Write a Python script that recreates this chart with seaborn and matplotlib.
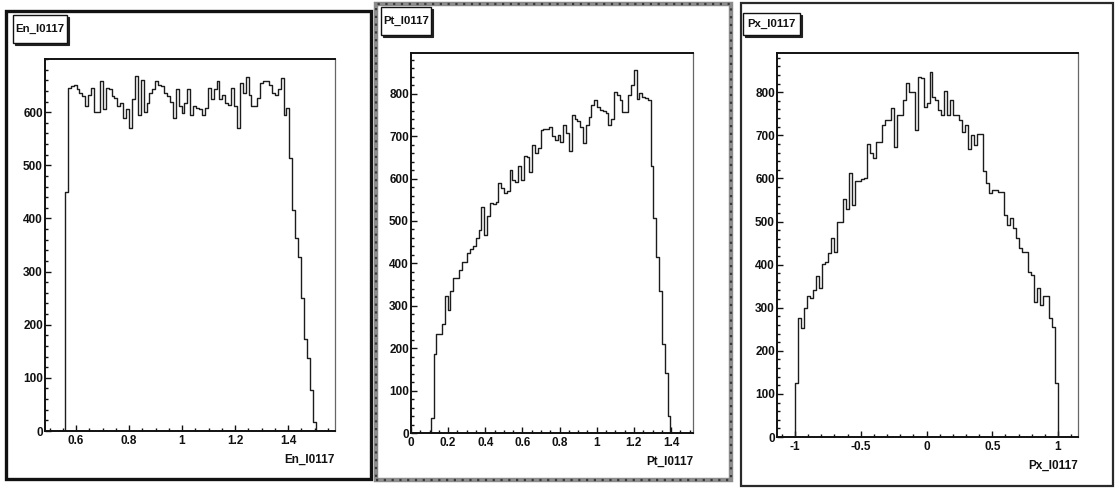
import numpy as np
import matplotlib
matplotlib.use("Agg")
import matplotlib.pyplot as plt
import seaborn as sns
import pandas as pd
from matplotlib.patches import Rectangle
from matplotlib.ticker import FixedLocator, FixedFormatter, MultipleLocator
from matplotlib import font_manager

# ---------------- data ----------------
en_counts = [450,
             646, 649, 652, 643, 636, 630, 611, 633, 646, 601,
             601, 658, 605, 646, 643, 630, 627, 611, 617, 589,
             605, 570, 624, 668, 595, 661, 601, 617, 636, 643,
             658, 652, 649, 636, 630, 620, 589, 643, 611, 598,
             617, 643, 595, 611, 608, 605, 595, 608, 646, 624,
             643, 658, 624, 633, 617, 614, 646, 611, 570, 655,
             636, 667, 633, 611, 611, 627, 655, 658, 658, 652,
             636, 633, 643, 664, 595, 608,
             513, 416, 363, 328, 250, 173, 137, 77, 17]
en_start = 0.558
en_width = 0.011
en_xlim = (0.483, 1.577)
en_ylim = (0, 700)
en_xticks = [0.6, 0.8, 1.0, 1.2, 1.4]
en_xticklabels = ["0.6", "0.8", "1", "1.2", "1.4"]
en_yticks = [0, 100, 200, 300, 400, 500, 600]
en_yticklabels = ["0", "100", "200", "300", "400", "500", "600"]
en_name = "En_I0117"

pt_counts = [36, 186, 234, 234, 257, 323, 290, 336, 365, 365,
             384, 404, 404, 424, 433, 440, 459, 479, 534, 467,
             512, 543, 540, 545, 590, 577, 567, 570, 620, 597,
             593, 630, 597, 653, 650, 616, 679, 660, 671, 715,
             716, 716, 722, 700, 691, 703, 687, 726, 707, 666,
             750, 740, 735, 722, 683, 726, 745, 773, 785, 769,
             762, 760, 755, 726, 740, 803, 797, 785, 758, 758,
             797, 820, 856, 788, 801, 793, 790, 785,
             630, 506, 416, 336, 211, 142, 40]
pt_start = 0.106
pt_width = 0.01518
pt_xlim = (0.0, 1.518)
pt_ylim = (0, 896)
pt_xticks = [0.0, 0.2, 0.4, 0.6, 0.8, 1.0, 1.2, 1.4]
pt_xticklabels = ["0", "0.2", "0.4", "0.6", "0.8", "1", "1.2", "1.4"]
pt_yticks = [0, 100, 200, 300, 400, 500, 600, 700, 800]
pt_yticklabels = ["0", "100", "200", "300", "400", "500", "600", "700", "800"]
pt_name = "Pt_I0117"

px_counts = [125, 275, 252, 299, 328, 322, 341, 374, 346, 401,
             407, 426, 462, 429, 500, 498, 552, 529, 612, 538,
             594, 594, 598, 600, 681, 658, 647, 685, 685, 724,
             735, 735, 763, 674, 748, 748, 782, 821, 801, 801,
             712, 836, 834, 765, 775, 848, 790, 782, 759, 747,
             803, 747, 782, 747, 746, 735, 708, 724, 668, 701,
             677, 702, 702, 617, 589, 565, 573, 573, 569, 569,
             515, 492, 507, 484, 461, 438, 430, 429, 384, 376,
             314, 345, 306, 328, 328, 275, 256, 125]
px_start = -1.0
px_width = 2.0 / 88
px_xlim = (-1.137, 1.152)
px_ylim = (0, 891)
px_xticks = [-1.0, -0.5, 0.0, 0.5, 1.0]
px_xticklabels = ["-1", "-0.5", "0", "0.5", "1"]
px_yticks = [0, 100, 200, 300, 400, 500, 600, 700, 800]
px_yticklabels = ["0", "100", "200", "300", "400", "500", "600", "700", "800"]
px_name = "Px_I0117"

# ---------------- style ----------------
sns.set_style("white")
names = {f.name for f in font_manager.fontManager.ttflist}
FONT = next((f for f in ["Liberation Sans Narrow", "Liberation Sans", "DejaVu Sans"]
             if f in names), "DejaVu Sans")
plt.rcParams["font.family"] = [FONT, "DejaVu Sans"]
plt.rcParams["axes.unicode_minus"] = False

W, H = 1118, 488
fig = plt.figure(figsize=(W / 100, H / 100), dpi=100)
fig.patch.set_facecolor("white")


def px_rect(x0, y0, x1, y1):
    """pixel box (top-left origin) -> figure fraction [l, b, w, h]"""
    return [x0 / W, 1 - y1 / H, (x1 - x0) / W, (y1 - y0) / H]


panels = [
    dict(counts=en_counts, start=en_start, width=en_width, xlim=en_xlim, ylim=en_ylim,
         xt=en_xticks, xtl=en_xticklabels, yt=en_yticks, ytl=en_yticklabels,
         name=en_name, xminor=0.05, yminor=20,
         axbox=(45, 59, 335, 431), titlebox=(13, 15, 67, 43),
         frame=(6, 11, 371, 479), frame_style="black"),
    dict(counts=pt_counts, start=pt_start, width=pt_width, xlim=pt_xlim, ylim=pt_ylim,
         xt=pt_xticks, xtl=pt_xticklabels, yt=pt_yticks, ytl=pt_yticklabels,
         name=pt_name, xminor=0.05, yminor=20,
         axbox=(411, 53, 693, 433), titlebox=(381, 7, 431, 35),
         frame=(376, 4, 731, 480), frame_style="gray"),
    dict(counts=px_counts, start=px_start, width=px_width, xlim=px_xlim, ylim=px_ylim,
         xt=px_xticks, xtl=px_xticklabels, yt=px_yticks, ytl=px_yticklabels,
         name=px_name, xminor=0.1, yminor=20,
         axbox=(777, 53, 1078, 437), titlebox=(743, 13, 800, 35),
         frame=(741, 3, 1113, 486), frame_style="dark"),
]

for p in panels:
    # outer pad frame
    fx0, fy0, fx1, fy1 = p["frame"]
    l, b, w, h = px_rect(fx0, fy0, fx1, fy1)
    if p["frame_style"] == "black":
        fig.patches.append(Rectangle((l, b), w, h, transform=fig.transFigure,
                                     fill=False, edgecolor="#111111", linewidth=2.4))
    elif p["frame_style"] == "gray":
        fig.patches.append(Rectangle((l, b), w, h, transform=fig.transFigure,
                                     fill=False, edgecolor="#8c8c8c", linewidth=3.2))
        fig.patches.append(Rectangle((l, b), w, h, transform=fig.transFigure,
                                     fill=False, edgecolor="#3a3a3a", linewidth=1.6,
                                     linestyle=(0, (1, 2.5))))
    else:
        fig.patches.append(Rectangle((l, b), w, h, transform=fig.transFigure,
                                     fill=False, edgecolor="#2a2a2a", linewidth=1.6))

    ax = fig.add_axes(px_rect(*p["axbox"]))
    counts = np.asarray(p["counts"], dtype=float)
    n = len(counts)
    wdt = p["width"]
    pad_lo = int(np.ceil((p["start"] - p["xlim"][0]) / wdt)) + 1
    pad_hi = int(np.ceil((p["xlim"][1] - (p["start"] + n * wdt)) / wdt)) + 1
    edges = p["start"] + wdt * np.arange(-pad_lo, n + pad_hi + 1)
    centers = p["start"] + wdt * (np.arange(n) + 0.5)
    df = pd.DataFrame({"x": centers, "w": counts})

    sns.histplot(data=df, x="x", weights="w", bins=[float(e) for e in edges],
                 element="step", fill=False, color="#1c1c1c", linewidth=1.0, ax=ax)

    ax.set_xlim(*p["xlim"])
    ax.set_ylim(*p["ylim"])
    ax.set_xlabel("")
    ax.set_ylabel("")

    for s in ["left", "bottom", "top"]:
        ax.spines[s].set_visible(True)
        ax.spines[s].set_color("#111111")
        ax.spines[s].set_linewidth(1.4)
    ax.spines["right"].set_visible(True)
    ax.spines["right"].set_color("#666666")
    ax.spines["right"].set_linewidth(0.9)

    ax.xaxis.set_major_locator(FixedLocator(p["xt"]))
    ax.xaxis.set_major_formatter(FixedFormatter(p["xtl"]))
    ax.yaxis.set_major_locator(FixedLocator(p["yt"]))
    ax.yaxis.set_major_formatter(FixedFormatter(p["ytl"]))
    ax.xaxis.set_minor_locator(MultipleLocator(p["xminor"]))
    ax.yaxis.set_minor_locator(MultipleLocator(p["yminor"]))
    ax.tick_params(which="both", direction="in", bottom=True, left=True,
                   top=False, right=False, color="#111111", width=1.0)
    ax.tick_params(which="major", length=4.5, labelsize=8.5)
    ax.tick_params(which="minor", length=2.2)
    ax.tick_params(axis="x", which="major", pad=3.0)
    ax.tick_params(axis="y", which="major", pad=1.5)
    for lab in ax.get_xticklabels() + ax.get_yticklabels():
        lab.set_fontweight("bold")
        lab.set_color("#111111")

    # axis title at the right end of the x axis
    ax.text(1.0, -0.06, p["name"], transform=ax.transAxes, ha="right", va="top",
            fontsize=8.5, fontweight="bold", color="#111111")

    # title box with shadow
    tx0, ty0, tx1, ty1 = p["titlebox"]
    l, b, w, h = px_rect(tx0 + 2, ty0 + 2, tx1 + 2, ty1 + 2)
    fig.patches.append(Rectangle((l, b), w, h, transform=fig.transFigure,
                                 facecolor="#222222", edgecolor="#222222", linewidth=0.8))
    l, b, w, h = px_rect(tx0, ty0, tx1, ty1)
    fig.patches.append(Rectangle((l, b), w, h, transform=fig.transFigure,
                                 facecolor="white", edgecolor="#111111", linewidth=1.0))
    fig.text(l + w / 2, b + h / 2, p["name"], ha="center", va="center",
             fontsize=8.2, fontweight="bold", color="#111111")

fig.savefig("out.png", dpi=100)
